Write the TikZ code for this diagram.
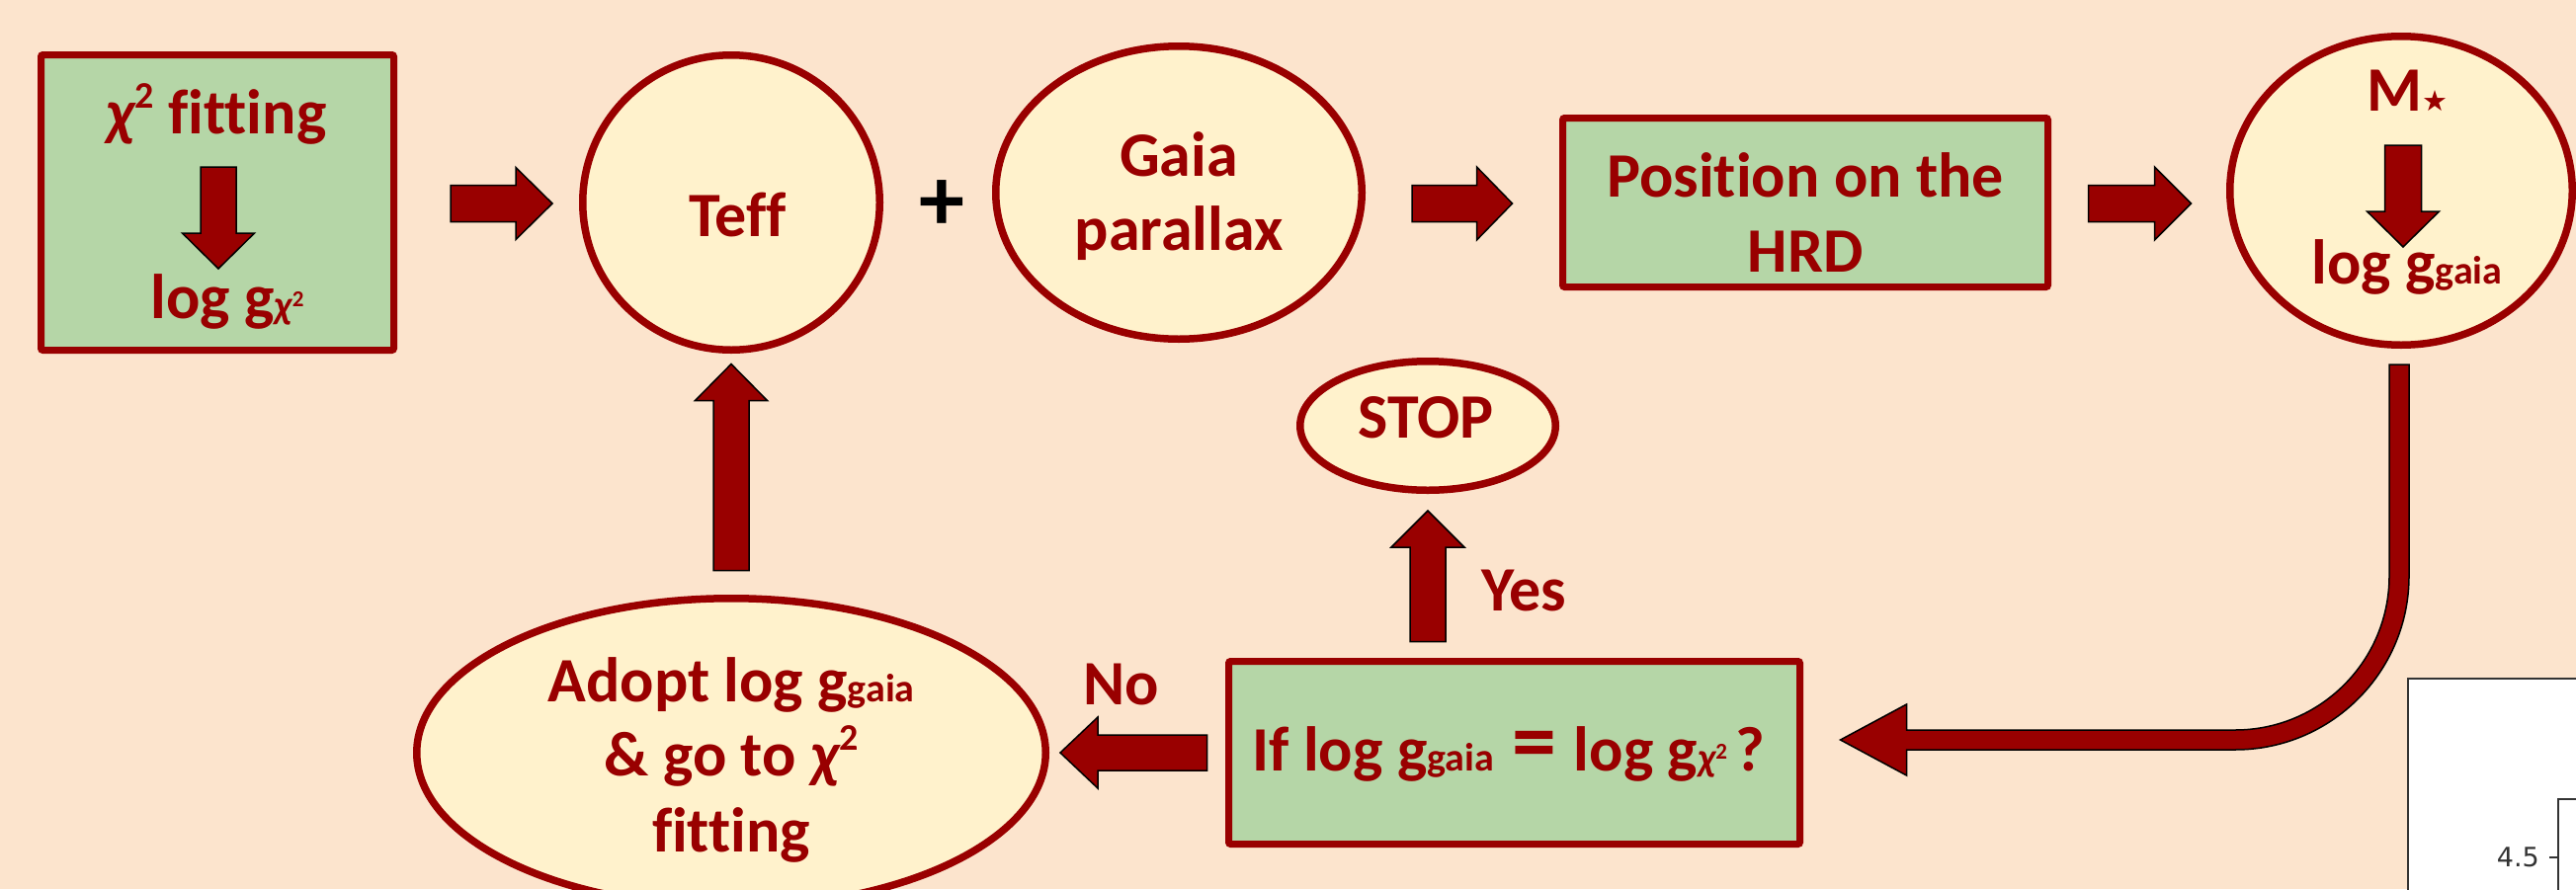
\documentclass[tikz,border=0pt]{standalone}
\usepackage{fontspec}
\setmainfont{Carlito}[Ligatures=NoCommon]
\newfontfamily\djv{DejaVu Sans}
\usetikzlibrary{shapes.geometric,calc}
\definecolor{bgc}{HTML}{FCE4CD}
\definecolor{grn}{HTML}{B5D6A7}
\definecolor{crm}{HTML}{FFF2CC}
\definecolor{drd}{HTML}{990000}
\definecolor{axg}{HTML}{333333}
\newcommand\fs[1]{\fontsize{#1}{#1}\selectfont}
\newcommand\ggaia{{\fs{40}gaia}}
\newcommand\gchi{{\fs{40}\itshape χ}\raisebox{12pt}{\fs{23}2}}
\newcommand\bigchi{{\itshape χ}\raisebox{26pt}{\fs{38}2}}
\newcommand\fatarrow[5]{%
  \coordinate (faA) at (#1);
  \coordinate (faB) at (#2);
  \coordinate (faC) at ($(faB)!#5!(faA)$);
  \draw[fatarr] ($(faA)!#3!90:(faB)$) -- ($(faC)!#3!90:(faB)$) -- ($(faC)!#4!90:(faB)$) -- (faB)
    -- ($(faC)!#4!-90:(faB)$) -- ($(faC)!#3!-90:(faB)$) -- ($(faA)!#3!-90:(faB)$) -- cycle;}
\begin{document}
\begin{tikzpicture}[x=1pt,y=-1pt,
  greenbox/.style={draw=drd, line width=7pt, fill=grn, rounded corners=2pt, inner sep=0pt},
  creamell/.style={ellipse, draw=drd, line width=7.5pt, fill=crm, inner sep=0pt},
  lbl/.style={text=drd, font=\bfseries\fs{64}, inner sep=0pt, anchor=base},
  fatarr/.style={fill=drd, draw=black, line width=1.5pt, line join=miter}]
\useasboundingbox (0,0) rectangle (2607,900);
\clip (0,0) rectangle (2607,900);
\fill[bgc] (0,0) rectangle (2607,900);

% inset plot (cropped)
\filldraw[fill=white, draw=axg, line width=1.5pt] (2437,687) rectangle (2620,920);
\draw[axg, line width=1.5pt] (2615,809) -- (2589,809) -- (2589,910);
\draw[axg, line width=1.5pt] (2580,868) -- (2589,868);
\node[text=axg, font=\djv\fs{27}, anchor=east, inner sep=0pt] (lab45) at (2570,868) {4.5};

% shapes
\node[greenbox, minimum width=357pt, minimum height=299pt] (box1) at (220,205) {};
\node[creamell, minimum width=300.5pt, minimum height=298.5pt] (teff) at (740,205) {};
\node[creamell, minimum width=370.5pt, minimum height=296.5pt] (gaia) at (1193,195) {};
\node[greenbox, minimum width=491pt, minimum height=171pt] (hrd) at (1827,205) {};
\node[creamell, minimum width=346.5pt, minimum height=312.5pt] (mstar) at (2430,193) {};
\node[creamell, minimum width=258.5pt, minimum height=130.5pt] (stop) at (1445,431) {};
\node[greenbox, minimum width=578pt, minimum height=185pt] (ifbox) at (1532.5,762) {};
\node[creamell, minimum width=636.5pt, minimum height=312.5pt] (adopt) at (740,762) {};

% texts
\node[lbl] (t1a) at (219,135) {\bigchi{} fitting};
\node[lbl] (t1b) at (230,322) {log g\gchi};
\node[lbl] (tteff) at (747,239) {Teff};
\node[text=black, font=\bfseries\fs{92}, inner sep=0pt] (plus) at (953,208) {+};
\node[lbl] (tg1) at (1193,178) {Gaia};
\node[lbl] (tg2) at (1193,253) {parallax};
\node[lbl] (th1) at (1827,199) {Position on the};
\node[lbl] (th2) at (1827,275) {HRD};
\node[lbl] (tm1) at (2436,112) {M{\djv\fs{29}★}};
\node[lbl] (tm2) at (2436,287) {log g\ggaia};
\node[lbl] (tstop) at (1443,443) {STOP};
\node[lbl] (tyes) at (1542,618) {Yes};
\node[lbl] (tno) at (1135,713) {No};
\node[lbl] (tif) at (1527,780) {If log g\ggaia\hspace{18pt}{\fs{90}=}\hspace{18pt}log g\gchi\hspace{9pt}?};
\node[lbl] (ta1) at (740,710) {Adopt log g\ggaia};
\node[lbl] (ta2) at (740,785) {\& go to \bigchi};
\node[lbl] (ta3) at (740,862) {fitting};

% block arrows
\fatarrow{$(box1.east)+(54,1)$}{$(teff.west)+(-27,1)$}{18.5pt}{36.5pt}{37pt}
\fatarrow{$(gaia.east |- hrd.west)+(47,1)$}{$(hrd.west)+(-47.5,1)$}{18.5pt}{37pt}{36pt}
\fatarrow{$(hrd.east)+(37.5,1)$}{$(mstar.west |- hrd.east)+(-35.5,1)$}{18.5pt}{37pt}{37pt}
\fatarrow{$(stop.south |- ifbox.north)+(0,-16.5)$}{$(stop.south)+(0,17)$}{18pt}{37pt}{37pt}
\fatarrow{$(ifbox.west)+(-18.5,0)$}{$(adopt.east)+(11,0)$}{18pt}{36pt}{38pt}
\fatarrow{$(adopt.north)+(0,-24.5)$}{$(teff.south)+(0,10.5)$}{18pt}{36.5pt}{37pt}
\fatarrow{$(box1.center)+(1,-36)$}{$(box1.center)+(1,67)$}{18pt}{36.5pt}{36pt}
\fatarrow{$(mstar.center)+(2,-46)$}{$(mstar.center)+(2,57)$}{18.5pt}{36.5pt}{36pt}

% curved return arrow
\coordinate (cs) at ($(mstar.south)+(-2,16)$);
\coordinate (ce) at ($(ifbox.east)+(37.5,-13)$);
\draw[fatarr] let \p1=(cs), \p2=(ce) in
  (\x1-10pt,\y1) -- (\x1-10pt,\y2+166pt) arc[start angle=0,end angle=-90,radius=156pt]
  -- (\x2+67pt,\y2+10pt) -- (\x2+67pt,\y2+36pt) -- (\x2,\y2) -- (\x2+67pt,\y2-36pt)
  -- (\x2+67pt,\y2-10pt) -- (\x1-166pt,\y2-10pt) arc[start angle=-90,end angle=0,radius=176pt]
  -- (\x1+10pt,\y1) -- cycle;
\end{tikzpicture}
\end{document}
